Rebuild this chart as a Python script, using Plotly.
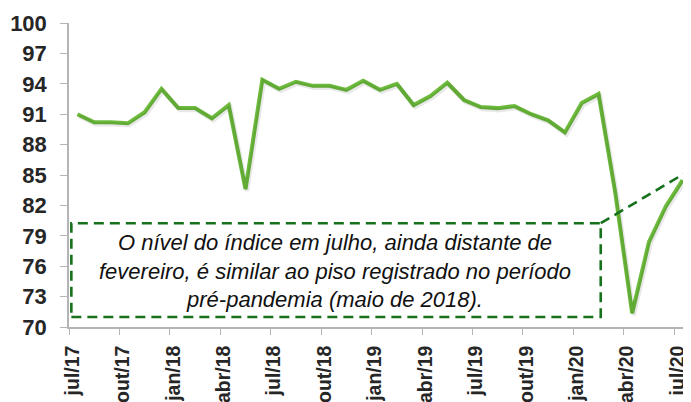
import plotly.graph_objects as go

months = ["jul/17", "ago/17", "set/17", "out/17", "nov/17", "dez/17",
          "jan/18", "fev/18", "mar/18", "abr/18", "mai/18", "jun/18",
          "jul/18", "ago/18", "set/18", "out/18", "nov/18", "dez/18",
          "jan/19", "fev/19", "mar/19", "abr/19", "mai/19", "jun/19",
          "jul/19", "ago/19", "set/19", "out/19", "nov/19", "dez/19",
          "jan/20", "fev/20", "mar/20", "abr/20", "mai/20", "jun/20",
          "jul/20"]
index_values = [91.0, 90.2, 90.2, 90.1, 91.2, 93.5,
                91.6, 91.6, 90.6, 91.9, 83.6, 94.4,
                93.5, 94.2, 93.8, 93.8, 93.4, 94.3,
                93.4, 94.0, 91.9, 92.8, 94.1, 92.4,
                91.7, 91.6, 91.8, 91.0, 90.4, 89.2,
                92.1, 93.0, 83.2, 71.35, 78.4, 81.9,
                84.5]
y_ticks = [70, 73, 76, 79, 82, 85, 88, 91, 94, 97, 100]
label_step = 3

x = list(range(len(months)))
label_offset = -0.3  # rotated labels sit slightly left of the category centre
label_pos = [p + label_offset for p in x[::label_step]]
label_txt = months[::label_step]
minor_pos = [p - 0.5 for p in x[::label_step]]

GREEN = "#6cbb3c"
DKGREEN = "#17701c"
AXIS = "#b4b4b4"
TXT = "#262626"
FONT = "Liberation Sans, Arial, sans-serif"

xr = [-0.5, len(months) - 0.5]
yr = [70, 100]
px_x = 16.8
px_y = 10.15

fig = go.Figure()
# soft shadow (same data, drawn on an offset overlay axis pair)
fig.add_trace(go.Scatter(x=x, y=index_values, mode="lines",
                         line=dict(color="rgba(0,0,0,0.09)", width=4.5),
                         xaxis="x2", yaxis="y2", hoverinfo="skip",
                         showlegend=False))
fig.add_trace(go.Scatter(x=x, y=index_values, mode="lines",
                         line=dict(color=GREEN, width=4),
                         showlegend=False))

# dashed box + connector
fig.add_shape(type="rect", xref="x", yref="y", x0=-0.36, x1=31.13, y0=70.99, y1=80.24,
              line=dict(color=DKGREEN, width=2.6, dash="10px,6px"), layer="above")
fig.add_shape(type="line", xref="x", yref="y", x0=31.13, y0=80.24, x1=36.13, y1=85.17,
              line=dict(color=DKGREEN, width=2.6, dash="10px,6px"), layer="above")

fig.add_annotation(x=15.33, y=75.5, xref="x", yref="y", xanchor="center", yanchor="middle",
                   text="<i>O nível do índice em julho, ainda distante de<br>"
                        "fevereiro, é similar ao piso registrado no período<br>"
                        "pré-pandemia (maio de 2018).</i>",
                   showarrow=False, align="center",
                   font=dict(family=FONT, size=22, color="#111111"))

# page body has an 8px margin; figure is sized/positioned to compensate
fig.update_layout(
    width=683, height=394,
    margin=dict(l=61, r=0, t=14.5, b=75, pad=0, autoexpand=False),
    paper_bgcolor="white", plot_bgcolor="white",
    xaxis=dict(range=xr, showgrid=False, zeroline=False, automargin=False,
               showline=True, linecolor=AXIS, linewidth=1.5,
               tickmode="array", tickvals=label_pos, ticktext=label_txt,
               ticks="", tickangle=-90, ticklabelstandoff=9,
               ticklabeloverflow="allow",
               tickfont=dict(family=FONT, size=19.5, color=TXT, weight="bold"),
               minor=dict(tickmode="array", tickvals=minor_pos, ticks="outside",
                          ticklen=6, tickcolor=AXIS, tickwidth=1.3, showgrid=False)),
    yaxis=dict(range=yr, showgrid=False, zeroline=False, automargin=False,
               showline=True, linecolor=AXIS, linewidth=1.5,
               tickmode="array", tickvals=y_ticks,
               ticks="outside", ticklen=7, tickcolor=AXIS, tickwidth=1.3,
               ticklabelstandoff=9,
               tickfont=dict(family=FONT, size=22, color=TXT, weight="bold")),
    xaxis2=dict(overlaying="x", anchor="y", visible=False,
                range=[xr[0] - 1.5 / px_x, xr[1] - 1.5 / px_x]),
    yaxis2=dict(overlaying="y", anchor="x", visible=False,
                range=[yr[0] + 2.0 / px_y, yr[1] + 2.0 / px_y]),
)

fig.write_html("out.html")
